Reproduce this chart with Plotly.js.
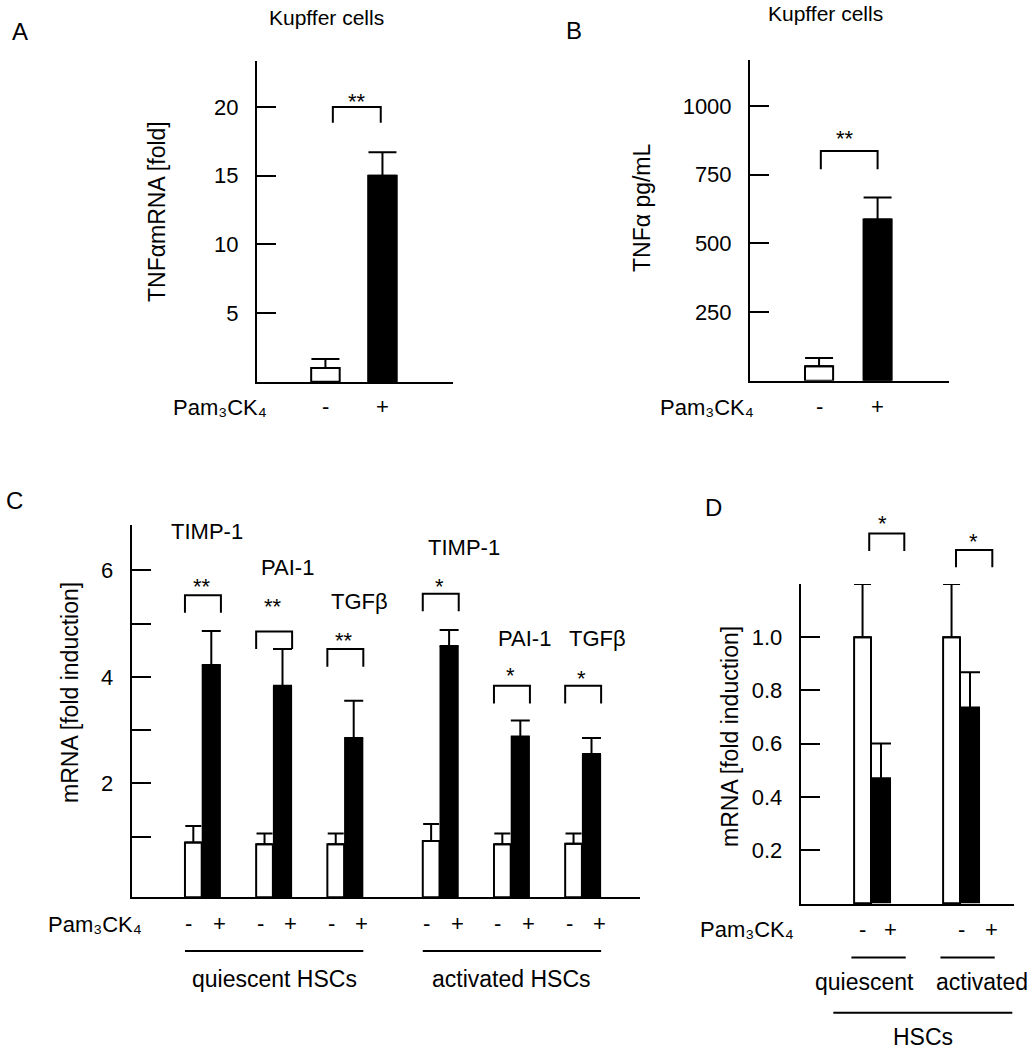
<!DOCTYPE html>
<html><head><meta charset="utf-8">
<script src="https://cdn.plot.ly/plotly-3.0.1.min.js"></script>
<style>html,body{margin:0;padding:0;background:#fff}#chart{width:1033px;height:1050px}</style>
</head><body><div id="chart"></div>
<script>
// ---------------- DATA ----------------
// Panel A: Kupffer cells, TNFα mRNA
const aLabels = ['-', '+'];
const aValues = [1.0, 15.0];
const aErrors = [0.65, 1.7];
// Panel B: Kupffer cells, TNFα protein
const bLabels = ['-', '+'];
const bValues = [53, 587];
const bErrors = [30, 80];
// Panel C: HSCs, fibrogenic genes
const cGenes = ['TIMP-1', 'PAI-1', 'TGFβ', 'TIMP-1', 'PAI-1', 'TGFβ'];
const cCellGroups = ['quiescent HSCs', 'activated HSCs'];
const cCtrlValues = [0.89, 0.86, 0.86, 0.92, 0.86, 0.87];
const cCtrlErrors = [0.31, 0.20, 0.20, 0.32, 0.20, 0.19];
const cPamValues = [4.22, 3.83, 2.85, 4.58, 2.88, 2.55];
const cPamErrors = [0.64, 0.69, 0.70, 0.30, 0.30, 0.30];
const cSig = ['**', '**', '**', '*', '*', '*'];
const cBracketTop = [5.53, 4.85, 4.52, 5.56, 3.83, 3.83];
// Panel D: HSCs
const dGroups = ['quiescent', 'activated'];
const dCtrlValues = [1.0, 1.0];
const dCtrlErrors = [0.2, 0.2];
const dPamValues = [0.47, 0.736];
const dPamErrors = [0.13, 0.132];
const dSig = ['*', '*'];
const pamLabel = 'Pam₃CK₄';

// ---------------- LAYOUT GEOMETRY ----------------
const FONT = 'Liberation Sans, Arial, Helvetica, sans-serif';
const W = 1033, H = 1050;
const px = p => p / W;
const py = p => 1 - p / H;
const geo = {
  A: {xpx: [257, 453], ypx: [382, 61], xr: [-1.2, 2.237], yr: [-0.02, 23.35]},
  B: {xpx: [750, 949], ypx: [380.7, 60], xr: [-1.18, 2.22], yr: [0, 1167.6]},
  C: {xpx: [131.7, 640], ypx: [897.3, 525], xr: [-0.983, 6.156], yr: [-0.137, 6.848]},
  D: {xpx: [800.7, 1014.3], ypx: [904, 584], xr: [-0.79, 1.61], yr: [-0.003, 1.2]}
};
function dom(g) { return {x: [px(g.xpx[0]), px(g.xpx[1])], y: [py(g.ypx[0]), py(g.ypx[1])]}; }
function dx(g, v) { const d = dom(g).x; return d[0] + (v - g.xr[0]) / (g.xr[1] - g.xr[0]) * (d[1] - d[0]); }
function dy(g, v) { const d = dom(g).y; return d[0] + (v - g.yr[0]) / (g.yr[1] - g.yr[0]) * (d[1] - d[0]); }

function yAx(g, anchor, tickvals, ticktext, minorvals) {
  const ax = {domain: dom(g).y, range: g.yr, anchor: anchor, tickmode: 'array', tickvals: tickvals, ticktext: ticktext,
    ticks: 'inside', ticklen: 19, tickwidth: 2, tickcolor: '#000', showline: true, linewidth: 2, linecolor: '#000',
    showgrid: false, zeroline: false, tickfont: {family: FONT, size: 22, color: '#000'}, ticklabelstandoff: 12, fixedrange: true};
  if (minorvals) ax.minor = {tickmode: 'array', tickvals: minorvals, ticks: 'inside', ticklen: 19, tickwidth: 2, tickcolor: '#000', showgrid: false};
  return ax;
}
function xAx(g, anchor) {
  return {domain: dom(g).x, range: g.xr, anchor: anchor, showline: true, linewidth: 2, linecolor: '#000',
    ticks: '', showticklabels: false, showgrid: false, zeroline: false, fixedrange: true};
}
function errs(arr, w) {
  return {type: 'data', symmetric: false, array: arr, arrayminus: arr.map(() => 0), color: '#000', thickness: 2, width: w};
}

// Panel C group positions (3 genes per cell group, with a gap between groups)
const cGap = 0.34;
const cPos = cGenes.map((g, i) => i + Math.floor(i / 3) * cGap);
const cBase = geo.C.yr[0];
const wW = 0.235, wB = 0.27;   // white / black bar widths in C
const dPos = dGroups.map((g, i) => i);
const dW = 0.19, dB = 0.225;

const traces = [
  {type: 'bar', x: [0, 1], y: aValues, width: 0.5, xaxis: 'x', yaxis: 'y',
   marker: {color: ['#fff', '#000'], line: {color: '#000', width: 2}}, error_y: errs(aErrors, 14)},
  {type: 'bar', x: [0, 1], y: bValues, width: 0.48, xaxis: 'x2', yaxis: 'y2',
   marker: {color: ['#fff', '#000'], line: {color: '#000', width: 2}}, error_y: errs(bErrors, 14)},
  {type: 'bar', x: cPos, base: cBase, y: cCtrlValues.map(v => v - cBase), offset: -wW, width: wW, xaxis: 'x3', yaxis: 'y3',
   marker: {color: '#fff', line: {color: '#000', width: 2}}, error_y: errs(cCtrlErrors, 8)},
  {type: 'bar', x: cPos, base: cBase, y: cPamValues.map(v => v - cBase), offset: 0, width: wB, xaxis: 'x3', yaxis: 'y3',
   marker: {color: '#000', line: {color: '#000', width: 0}}, error_y: errs(cPamErrors, 9.5)},
  {type: 'bar', x: dPos, y: dCtrlValues, offset: -dW, width: dW, xaxis: 'x4', yaxis: 'y4',
   marker: {color: '#fff', line: {color: '#000', width: 2}}, error_y: errs(dCtrlErrors, 8.5)},
  {type: 'bar', x: dPos, y: dPamValues, offset: 0, width: dB, xaxis: 'x4', yaxis: 'y4',
   marker: {color: '#000', line: {color: '#000', width: 0}}, error_y: errs(dPamErrors, 10)}
];

// ---------------- ANNOTATIONS & SHAPES ----------------
const ann = [];
const shapes = [];
function A_(x, y, text, opts) {
  ann.push(Object.assign({xref: 'paper', yref: 'paper', x: x, y: y, text: text, showarrow: false,
    xanchor: 'center', yanchor: 'middle', font: {family: FONT, size: 22, color: '#000'}}, opts || {}));
}
function lineP(x0, y0, x1, y1) {
  shapes.push({type: 'line', xref: 'paper', yref: 'paper', x0: x0, y0: y0, x1: x1, y1: y1, line: {color: '#000', width: 2}});
}
function bracket(g, x0, x1, top, bottom) {
  const X0 = dx(g, x0), X1 = dx(g, x1), T = dy(g, top), B = dy(g, bottom);
  shapes.push({type: 'path', xref: 'paper', yref: 'paper', path: `M${X0},${B} L${X0},${T} L${X1},${T} L${X1},${B}`,
    line: {color: '#000', width: 2}});
}
const STAR_SHIFT = -6;
const big = s => ({family: FONT, size: s, color: '#000'});

// Panel letters
A_(px(20), py(32), 'A', {font: big(24)});
A_(px(574), py(31), 'B', {font: big(24)});
A_(px(14), py(500), 'C', {font: big(24)});
A_(px(713), py(507), 'D', {font: big(24)});
// Titles
A_(px(326), py(17), 'Kupffer cells', {font: big(21)});
A_(px(825), 1, 'Kupffer cells', {font: big(21), yanchor: 'top'});
// Y titles
A_(px(157), py(212), 'TNFαmRNA [fold]', {textangle: -90, font: big(23)});
A_(px(642), py(208), 'TNFα pg/mL', {textangle: -90, font: big(23)});
A_(px(70), py(693), 'mRNA [fold induction]', {textangle: -90, font: big(23)});
A_(px(730), py(737), 'mRNA [fold induction]', {textangle: -90, font: big(23)});

// Panel A
const gA = geo.A;
A_(px(220), py(407), pamLabel);
aLabels.forEach((l, i) => A_(dx(gA, i), py(406), l));
bracket(gA, 0.13, 0.97, 20.0, 18.85);
A_(dx(gA, 0.55), dy(gA, 20.87), '**', {yshift: STAR_SHIFT});

// Panel B
const gB = geo.B;
A_(px(707), py(407), pamLabel);
bLabels.forEach((l, i) => A_(dx(gB, i), py(406), l));
bracket(gB, 0.03, 1.0, 836, 770);
A_(dx(gB, 0.44), dy(gB, 902), '**', {yshift: STAR_SHIFT});

// Panel C
const gC = geo.C;
const cGeneDx = [0.08, 0.2, 0.22, 0.34, 0.2, 0.22];
const cGeneY = [6.72, 6.05, 5.41, 6.43, 4.72, 4.72];
const cStarY = [5.80, 5.44, 4.80, 5.80, 4.13, 4.08];
cGenes.forEach((gname, i) => {
  const p = cPos[i];
  bracket(gC, p - wW, p + wB, cBracketTop[i], cBracketTop[i] - 0.33);
  A_(dx(gC, p), dy(gC, cStarY[i]), cSig[i], {yshift: STAR_SHIFT});
  A_(dx(gC, p + cGeneDx[i]), dy(gC, cGeneY[i]), gname);
  A_(dx(gC, p - 0.18), py(923), '-');
  A_(dx(gC, p + 0.25), py(923), '+');
});
A_(px(95), py(924), pamLabel);
cCellGroups.forEach((name, k) => {
  const x0 = dx(gC, cPos[3 * k] - wW), x1 = dx(gC, cPos[3 * k + 2] + wB);
  lineP(x0, py(951), x1, py(951));
  A_((x0 + x1) / 2, py(979), name, {font: big(23)});
});

// Panel D
const gD = geo.D;
const dBr = [[-0.02, 0.374, 1.39, 1.324], [0.955, 1.363, 1.328, 1.263]];
const dStar = [[0.13, 1.45], [1.15, 1.381]];
const dMinusX = [-0.093, 1.019], dPlusX = [0.221, 1.356];
const dTextX = [-0.075, 1.244];
dGroups.forEach((name, i) => {
  bracket(gD, dBr[i][0], dBr[i][1], dBr[i][2], dBr[i][3]);
  A_(dx(gD, dStar[i][0]), dy(gD, dStar[i][1]), dSig[i], {yshift: STAR_SHIFT});
  A_(dx(gD, dMinusX[i]), py(929), '-');
  A_(dx(gD, dPlusX[i]), py(929), '+');
  lineP(dx(gD, dPos[i] - 0.22), py(957.5), dx(gD, dPos[i] + 0.39), py(957.5));
  A_(dx(gD, dTextX[i]), py(982), name, {font: big(23)});
});
A_(px(746.5), py(929), pamLabel);
lineP(px(833.3), py(1012.7), px(1012.3), py(1012.7));
A_(px(923.3), py(1037), 'HSCs', {font: big(23)});

const layout = {
  width: W, height: H, margin: {l: 0, r: 0, t: 0, b: 0},
  paper_bgcolor: '#fff', plot_bgcolor: 'rgba(0,0,0,0)', showlegend: false, barmode: 'overlay',
  font: {family: FONT, color: '#000'},
  xaxis: xAx(gA, 'y'), yaxis: yAx(gA, 'x', [5, 10, 15, 20], ['5', '10', '15', '20']),
  xaxis2: xAx(gB, 'y2'), yaxis2: yAx(gB, 'x2', [250, 500, 750, 1000], ['250', '500', '750', '1000']),
  xaxis3: xAx(gC, 'y3'), yaxis3: yAx(gC, 'x3', [2, 4, 6], ['2', '4', '6'], [1, 3, 5]),
  xaxis4: xAx(gD, 'y4'), yaxis4: yAx(gD, 'x4', [0.2, 0.4, 0.6, 0.8, 1.0], ['0.2', '0.4', '0.6', '0.8', '1.0']),
  annotations: ann, shapes: shapes
};
Plotly.newPlot('chart', traces, layout, {staticPlot: true, displayModeBar: false});
</script>
</body></html>
